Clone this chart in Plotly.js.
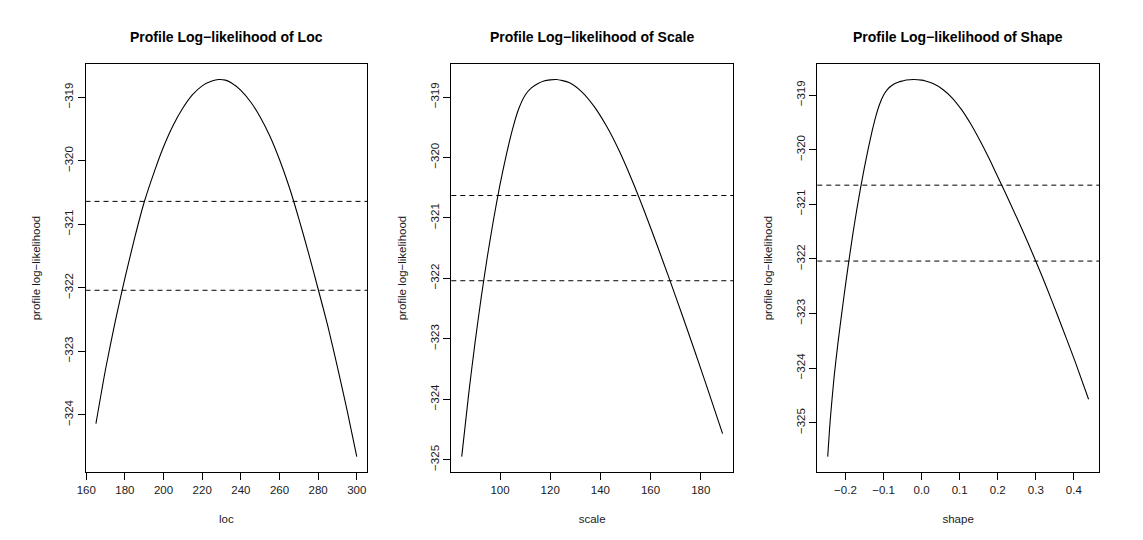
<!DOCTYPE html>
<html>
<head>
<meta charset="utf-8">
<script src="https://cdn.plot.ly/plotly-3.0.1.min.js"></script>
<style>html,body{margin:0;padding:0;background:#fff;}#plot{width:1143px;height:540px;}</style>
</head>
<body>
<div id="plot"></div>
<script>
// ---- Data ----
const locX = [165, 170, 175, 180, 185, 190, 195, 200, 205, 210, 215, 220, 225, 228.5, 232, 235, 240, 245, 250, 255, 260, 265, 270, 275, 280, 285, 290, 295, 300];
const locY = [-324.14, -323.28, -322.53, -321.85, -321.22, -320.65, -320.19, -319.78, -319.44, -319.17, -318.96, -318.82, -318.745, -318.72, -318.73, -318.77, -318.89, -319.07, -319.31, -319.61, -319.98, -320.41, -320.91, -321.45, -322.02, -322.6, -323.25, -323.93, -324.66];

const scaleX = [84.75, 87.5, 90, 92.5, 95, 97.5, 100, 102.5, 105, 107.5, 110, 112.5, 115, 117.5, 120, 122.5, 127.5, 132.5, 137.5, 142.5, 147.5, 152.5, 157.5, 162.5, 167.5, 172.5, 177.5, 182.5, 188.7];
const scaleY = [-324.95, -323.92, -323.08, -322.32, -321.63, -321.01, -320.45, -319.96, -319.53, -319.19, -318.97, -318.85, -318.78, -318.735, -318.716, -318.71, -318.76, -318.91, -319.155, -319.485, -319.89, -320.365, -320.885, -321.44, -322.01, -322.595, -323.19, -323.8, -324.57];

const shapeX = [-0.2465, -0.24, -0.23, -0.22, -0.21, -0.2, -0.19, -0.18, -0.17, -0.16, -0.15, -0.14, -0.13, -0.12, -0.11, -0.1, -0.09, -0.08, -0.07, -0.06, -0.05, -0.04, -0.02, 0.0, 0.01, 0.03, 0.055, 0.08, 0.105, 0.13, 0.155, 0.18, 0.205, 0.23, 0.255, 0.28, 0.305, 0.33, 0.355, 0.38, 0.405, 0.4386];
const shapeY = [-325.62, -324.955, -324.175, -323.56, -323.01, -322.485, -321.99, -321.52, -321.09, -320.69, -320.32, -319.975, -319.66, -319.385, -319.165, -319.005, -318.9, -318.835, -318.79, -318.76, -318.742, -318.725, -318.715, -318.727, -318.742, -318.79, -318.893, -319.05, -319.268, -319.54, -319.856, -320.2, -320.568, -320.94, -321.32, -321.715, -322.124, -322.55, -322.996, -323.45, -323.912, -324.57];

// horizontal cut-off levels (dashed lines)
const locCut = [-320.64, -322.04];
const scaleCut = [-320.63, -322.04];
const shapeCut = [-320.65, -322.04];

// tick values
const locTicks = [160, 180, 200, 220, 240, 260, 280, 300];
const scaleTicks = [100, 120, 140, 160, 180];
const shapeTicks = [-0.2, -0.1, 0.0, 0.1, 0.2, 0.3, 0.4];
const locYTicks = [-324, -323, -322, -321, -320, -319];
const scaleYTicks = [-325, -324, -323, -322, -321, -320, -319];
const shapeYTicks = [-325, -324, -323, -322, -321, -320, -319];

const titles = ["Profile Log\u2212likelihood of Loc", "Profile Log\u2212likelihood of Scale", "Profile Log\u2212likelihood of Shape"];
const xTitles = ["loc", "scale", "shape"];
const yTitle = "profile log\u2212likelihood";

// ---- Layout ----
const W = 1143, H = 540;
const FONT = "Liberation Sans, Arial, Helvetica, sans-serif";
const plotLeft = [85.5, 451.3, 817.3];
const plotWidth = 281.7;
const plotTop = 64.4, plotBottom = 471.7;
const yDomain = [(H - plotBottom) / H, (H - plotTop) / H];

function rRange(arr) {
  const mn = Math.min(...arr), mx = Math.max(...arr);
  const pad = (mx - mn) * 0.04;
  return [mn - pad, mx + pad];
}

const panels = [
  {x: locX, y: locY, cut: locCut, xt: locTicks, yt: locYTicks, fmt: ""},
  {x: scaleX, y: scaleY, cut: scaleCut, xt: scaleTicks, yt: scaleYTicks, fmt: ""},
  {x: shapeX, y: shapeY, cut: shapeCut, xt: shapeTicks, yt: shapeYTicks, fmt: ".1f"}
];

const data = [];
const layout = {
  width: W, height: H,
  margin: {l: 0, r: 0, t: 0, b: 0},
  paper_bgcolor: "#fff", plot_bgcolor: "#fff",
  showlegend: false,
  font: {family: FONT, color: "#000", size: 11.5},
  shapes: [], annotations: []
};

panels.forEach((p, i) => {
  const n = i === 0 ? "" : String(i + 1);
  data.push({
    type: "scatter", mode: "lines",
    x: p.x, y: p.y,
    xaxis: "x" + n, yaxis: "y" + n,
    line: {color: "#000", width: 1.1, shape: "spline", smoothing: 0.6},
    hoverinfo: "skip"
  });
  const dom = [plotLeft[i] / W, (plotLeft[i] + plotWidth) / W];
  const common = {
    showline: true, linecolor: "#000", linewidth: 1, mirror: true,
    ticks: "outside", ticklen: 7, tickwidth: 1, tickcolor: "#000",
    showgrid: false, zeroline: false, fixedrange: true,
    tickfont: {family: FONT, size: 11.5, color: "#1a1a1a"}
  };
  layout["xaxis" + n] = Object.assign({}, common, {
    domain: dom, anchor: "y" + n,
    range: rRange(p.x),
    tickmode: "array", tickvals: p.xt, tickformat: p.fmt,
    title: {text: xTitles[i], font: {family: FONT, size: 11.5, color: "#1a1a1a"}, standoff: 20}
  });
  layout["yaxis" + n] = Object.assign({}, common, {
    domain: yDomain, anchor: "x" + n,
    range: rRange(p.y),
    tickmode: "array", tickvals: p.yt,
    tickangle: -90,
    title: {text: yTitle, font: {family: FONT, size: 11.5, color: "#1a1a1a"}, standoff: 19}
  });
  p.cut.forEach(v => {
    layout.shapes.push({
      type: "line", xref: "x" + n + " domain", yref: "y" + n,
      x0: 0, x1: 1, y0: v, y1: v,
      line: {color: "#000", width: 1, dash: "5px,4px"}
    });
  });
  layout.annotations.push({
    text: titles[i], xref: "paper", yref: "paper",
    x: (dom[0] + dom[1]) / 2, y: (H - 37) / H,
    xanchor: "center", yanchor: "middle", showarrow: false,
    font: {family: FONT, size: 14, color: "#000", weight: "bold"}
  });
});

Plotly.newPlot("plot", data, layout, {displayModeBar: false, staticPlot: true});
</script>
</body>
</html>
